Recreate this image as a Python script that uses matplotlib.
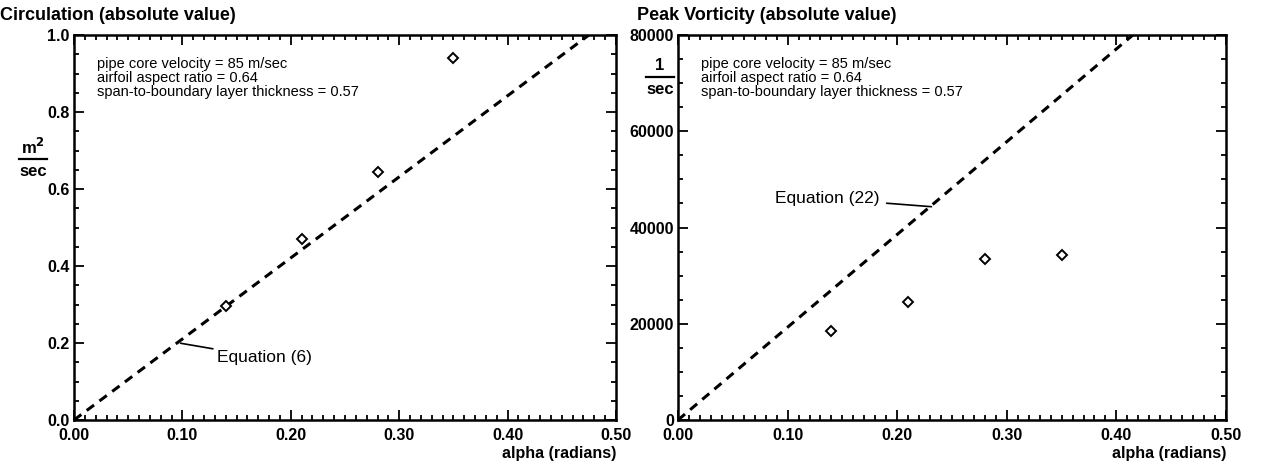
import matplotlib
matplotlib.use("Agg")
import matplotlib.pyplot as plt
from matplotlib.lines import Line2D
from matplotlib.ticker import MultipleLocator, FormatStrFormatter

plt.rcParams['font.family'] = ['Liberation Sans', 'DejaVu Sans']

# =========================
# DATA
# =========================
alpha = [0.14, 0.21, 0.28, 0.35]
circulation = [0.295, 0.47, 0.645, 0.94]
vorticity = [18500, 24500, 33500, 34200]

# theory lines (end points)
eq6_alpha = [0.0, 0.475]
eq6_value = [0.0, 1.0]
eq22_alpha = [0.0, 0.415]
eq22_value = [0.0, 80000]

notes = ["pipe core velocity = 85 m/sec",
         "airfoil aspect ratio = 0.64",
         "span-to-boundary layer thickness = 0.57"]

W, H = 1261, 466


def style_axes(ax, ymax, ymajor, yminor, yfmt):
    ax.set_xlim(0, 0.5)
    ax.set_ylim(0, ymax)
    ax.xaxis.set_major_locator(MultipleLocator(0.1))
    ax.xaxis.set_minor_locator(MultipleLocator(0.01))
    ax.yaxis.set_major_locator(MultipleLocator(ymajor))
    ax.yaxis.set_minor_locator(MultipleLocator(yminor))
    ax.xaxis.set_major_formatter(FormatStrFormatter('%.2f'))
    ax.yaxis.set_major_formatter(FormatStrFormatter(yfmt))
    ax.tick_params(which='both', direction='in', top=True, right=True,
                   width=1.3, labelsize=11.5)
    ax.tick_params(axis='x', pad=6)
    ax.tick_params(axis='y', pad=3)
    ax.tick_params(which='major', length=7)
    ax.tick_params(which='minor', length=3.5)
    for lab in ax.get_xticklabels() + ax.get_yticklabels():
        lab.set_fontweight('bold')
    for sp in ax.spines.values():
        sp.set_linewidth(1.8)
    ax.set_xlabel("alpha (radians)", fontsize=11.5, fontweight='bold',
                  loc='right', labelpad=2)
    for i, s in enumerate(notes):
        ax.text(0.042, 0.925 - i * 0.037, s, transform=ax.transAxes,
                fontsize=10.5, va='center', ha='left')


def fraction_label(x, ytop, top_text):
    fig.text(x / W, 1 - ytop / H, top_text, ha='center', va='center',
             fontsize=12, fontweight='bold')
    fig.add_artist(Line2D([(x - 14) / W, (x + 14) / W],
                          [1 - (ytop + 12) / H, 1 - (ytop + 12) / H],
                          color='black', lw=1.6))
    fig.text(x / W, 1 - (ytop + 24) / H, "sec", ha='center', va='center',
             fontsize=12, fontweight='bold')


fig = plt.figure(figsize=(W / 100, H / 100), dpi=100)
ax1 = fig.add_axes([74 / W, 46 / H, 542 / W, 385 / H])
ax2 = fig.add_axes([678 / W, 46 / H, 548 / W, 385 / H])

# =========================
# LEFT: CIRCULATION
# =========================
ax1.plot(eq6_alpha, eq6_value, color='black', lw=2.2, ls=(0, (3, 2.2)))
ax1.plot(alpha, circulation, ls='none', marker='D', ms=5, mfc='white',
         mec='black', mew=1.4)
ax1.annotate("Equation (6)", xy=(0.097, 0.2), xytext=(0.132, 0.162),
             fontsize=12.5, va='center', ha='left',
             arrowprops=dict(arrowstyle='-', color='black', lw=1.2,
                             shrinkA=1, shrinkB=1))
style_axes(ax1, 1.0, 0.2, 0.05, '%.1f')
fig.text(0, 1 - 15 / H, "Circulation (absolute value)", fontsize=13,
         fontweight='bold', ha='left', va='center')
fraction_label(33, 147, "m$^\\mathbf{2}$")

# =========================
# RIGHT: PEAK VORTICITY
# =========================
ax2.plot(eq22_alpha, eq22_value, color='black', lw=2.2, ls=(0, (3, 2.2)))
ax2.plot(alpha, vorticity, ls='none', marker='D', ms=5, mfc='white',
         mec='black', mew=1.4)
ax2.annotate("Equation (22)", xy=(0.2325, 44300), xytext=(0.184, 46000),
             fontsize=12.5, va='center', ha='right',
             arrowprops=dict(arrowstyle='-', color='black', lw=1.2,
                             shrinkA=3, shrinkB=1))
style_axes(ax2, 80000, 20000, 5000, '%d')
fig.text(637 / W, 1 - 15 / H, "Peak Vorticity (absolute value)", fontsize=13,
         fontweight='bold', ha='left', va='center')
fraction_label(660, 65, "1")

fig.savefig("out.png", dpi=100)
